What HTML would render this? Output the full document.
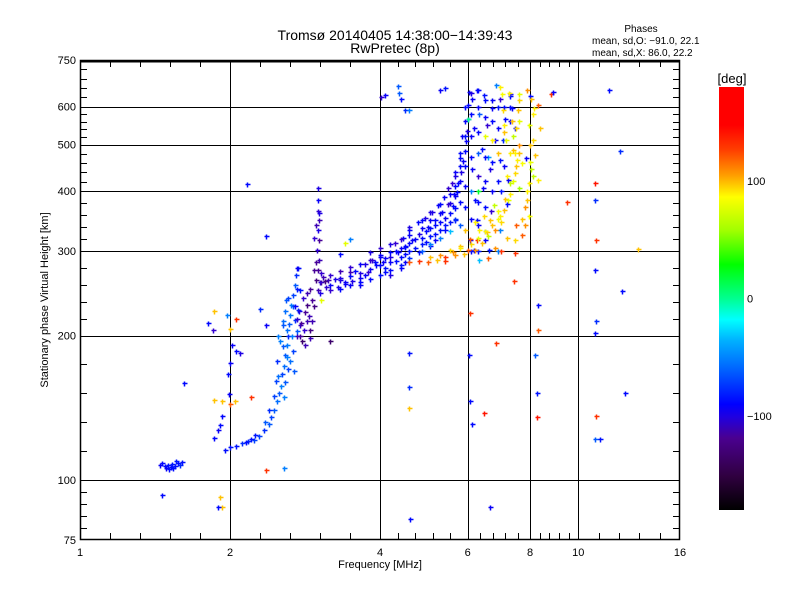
<!DOCTYPE html>
<html><head><meta charset="utf-8"><style>
body{margin:0;background:#fff;}
svg{display:block;font-family:"Liberation Sans",sans-serif;}
</style></head><body>
<svg id="chart" width="800" height="600" viewBox="0 0 800 600">
<rect width="800" height="600" fill="#fff"/>
<defs>
<linearGradient id="cbar" x1="0" y1="1" x2="0" y2="0">
<stop offset="0" stop-color="#000"/>
<stop offset="0.08" stop-color="#300040"/>
<stop offset="0.17" stop-color="#4a0090"/>
<stop offset="0.22" stop-color="#2000e0"/>
<stop offset="0.25" stop-color="#0000ff"/>
<stop offset="0.33" stop-color="#0060ff"/>
<stop offset="0.40" stop-color="#00b0ff"/>
<stop offset="0.45" stop-color="#00ffff"/>
<stop offset="0.50" stop-color="#00ff90"/>
<stop offset="0.58" stop-color="#00ff00"/>
<stop offset="0.66" stop-color="#a0ff00"/>
<stop offset="0.74" stop-color="#ffff00"/>
<stop offset="0.79" stop-color="#ffa000"/>
<stop offset="0.85" stop-color="#ff4000"/>
<stop offset="0.91" stop-color="#ff0000"/>
<stop offset="1" stop-color="#ff0000"/>
</linearGradient>
</defs>
<g font-size="14" text-anchor="middle" fill="#000">
<text x="395" y="40">Tromsø 20140405 14:38:00−14:39:43</text>
<text x="395" y="53">RwPretec (8p)</text>
</g>
<g font-size="10" fill="#000">
<text x="641" y="32" text-anchor="middle">Phases</text>
<text x="592" y="44">mean, sd,O: −91.0, 22.1</text>
<text x="592" y="56">mean, sd,X:  86.0, 22.2</text>
</g>
<g id="grid"></g>
<g id="points"></g>
<g id="axes"></g>
<text x="380" y="568" font-size="11" text-anchor="middle">Frequency [MHz]</text>
<text x="0" y="0" font-size="11" text-anchor="middle" transform="translate(48,300) rotate(-90)">Stationary phase Virtual Height [km]</text>
<g>
<rect x="719" y="87" width="25" height="423" fill="url(#cbar)"/>
<text x="732" y="83" font-size="13" text-anchor="middle">[deg]</text>
<g id="cbticks" font-size="11"></g>
</g>
</svg>
<script>
// ---- data ----
const xMajorTicks = [1, 2, 4, 6, 8, 10, 16];
const xGridValues = [2, 4, 6, 8, 10];
const yMajorTicks = [75, 100, 200, 300, 400, 500, 600, 750];
const colorbarTicks = [100, 0, -100];

// sporadic-E low trace
const esFreq = [1.45,1.46,1.48,1.49,1.50,1.52,1.53,1.54,1.55,1.57,1.59,1.60,1.51,1.56];
const esHeight = [107.5,108.6,107,105.7,107.5,106.6,108,106,107,108.6,107.5,109,105.5,109.5];
const esPhase = [-110,-100,-95,-110,-90,-100,-85,-95,-90,-100,-80,-90,-95,-85];

// F1 O-mode trace (cyan)
const f1Freq = [1.95,2.0,2.06,2.11,2.17,2.23,2.29,2.34,2.39,2.42,2.45,2.48,2.51,2.53,2.54,2.57,2.58,2.60,2.61,2.63,2.64,2.65,2.68,2.70,2.71,2.74,2.52,2.72,2.67,2.55,2.74,2.59,2.76,2.49,2.69,2.47,2.57,2.64,
  2.55,2.6,2.62,2.5,2.58,2.66,2.7,2.58,2.62,2.68,2.72,2.5,2.55,2.6,2.45,2.4,2.35,2.2,2.25,2.15];
const f1Height = [115.5,117,118,119.4,120.6,121,123.6,127,131,135,140,146,152,157,166,173,182,191,200,211,221,232,243,255,268,277,195,204,186,214,226,237,249,177,169,161,149,177,
  190,180,170,165,160,200,215,225,240,230,250,200,210,205,150,140,132,122,124,120];
const f1Phase = [-95,-90,-85,-80,-80,-75,-75,-80,-70,-75,-70,-65,-70,-60,-75,-65,-70,-60,-80,-70,-65,-60,-75,-70,-80,-85,-60,-70,-75,-65,-80,-70,-90,-80,-70,-75,-60,-65,
  -70,-60,-75,-65,-70,-60,-80,-65,-75,-70,-85,-60,-70,-65,-75,-80,-70,-90,-85,-95];

// low-frequency dark trace near 2 MHz
const lowFreq = [2.02,2.06,2.09,2.0,1.98,1.99,1.93,1.91,1.89,1.86];
const lowHeight = [191,186,184,175,166,151,136,130,127,122.6];
const lowPhase = [-110,-105,-115,-110,-100,-110,-105,-100,-110,-105];

// spread column (purple)
const pxFreq = [3.0,3.0,3.0,3.02,3.0,3.02,2.99,3.02,3.0,2.97,3.0,2.92,2.86,2.83,2.92,2.76,2.9,2.83,2.76,2.79,2.85,2.72,2.95,3.04,3.1,3.15,
  2.95,2.98,3.02,2.9,2.85,2.8,2.95,2.88,2.78,2.82,2.9,2.75,3.05,2.98,3.08,3.12,2.7,2.72];
const pxHeight = [405,383,364,348,332,316,302,287,274,261,249,237,232,224,214,210,205,191,200,195,214,216,274,258,260,261,
  320,340,360,250,245,240,230,220,212,205,198,225,270,285,265,252,230,200];
const pxPhase = [-115,-110,-120,-125,-115,-130,-120,-125,-130,-135,-125,-130,-135,-130,-125,-120,-135,-125,-130,-140,-125,-120,-130,-130,-135,-125,
  -120,-125,-115,-130,-125,-120,-135,-125,-130,-120,-125,-115,-120,-130,-125,-120,-110,-125];

// main F2 O-mode trace (blue)
const f2Freq = [3.17,3.29,3.40,3.51,3.65,3.79,3.93,4.05,4.19,4.35,4.49,4.63,4.8,5.0,5.15,5.33,5.48,5.63,5.74,5.82,5.88,5.93,5.96,5.99,6.01,6.01,6.04,3.48,3.74,4.0,4.29,4.58,4.93,5.22,5.48,5.66,5.78,5.85,3.33,3.85,4.44,4.76,5.09,5.37,5.59,3.65,4.1,4.49,4.8,5.15,5.41,5.66,4.41,4.19,5.03];
const f2Height = [249,252,256,260,264,271,280,285,291,299,308,316,325,336,348,361,376,394,416,438,461,485,508,533,564,605,643,271,282,295,312,332,351,374,405,438,468,521,263,287,319,345,361,388,416,255,271,285,299,316,332,348,276,267,308];
const f2Phase = [-120,-115,-110,-115,-110,-120,-105,-110,-115,-110,-105,-110,-115,-110,-105,-110,-120,-110,-105,-115,-110,-105,-110,-115,-110,-105,-110,-125,-115,-110,-120,-110,-115,-110,-120,-110,-105,-110,-115,-120,-110,-105,-115,-110,-120,-110,-100,-110,-95,-110,-100,-90,-110,-115,-100];

// dense fill of the F2 band
const bandFreq = [3.03,3.03, 3.17,3.17, 3.33,3.33,3.33, 3.48,3.48,3.48, 3.65,3.65,3.65, 3.82,3.82,3.82,3.82, 4.0,4.0,4.0,4.0, 4.19,4.19,4.19,4.19, 4.41,4.41,4.41,4.41,
  4.58,4.58,4.58,4.58,4.58, 4.86,4.86,4.86,4.86,4.86, 5.03,5.03,5.03,5.03,5.03, 5.28,5.28,5.28,5.28,5.28, 5.53,5.53,5.53,5.53,5.53, 5.66,5.66,5.66,5.66,5.66,
  5.78,5.78,5.78,5.78,5.78, 5.93,5.93,5.93,5.93,5.93,5.93,
  3.25,3.4,3.56,3.74,3.9,4.1,4.3,4.5,4.7,4.95,5.15,5.4,5.6,5.72, 4.1,4.3,4.5,4.7,4.95,5.15,5.4];
const bandHeight = [245,258, 255,268, 250,261,272, 255,266,278, 259,270,282, 262,275,288,298, 268,280,292,305, 274,285,298,310, 280,292,304,318,
  290,300,312,324,336, 300,310,320,335,348, 310,322,335,348,362, 320,332,345,360,375, 330,345,360,378,395, 350,368,390,410,430,
  340,380,420,450,480, 370,410,450,520,560,600,
  262,258,272,268,284,290,300,306,318,330,340,352,372,398, 276,286,296,304,314,326,340];
const bandPhase = [-115,-120, -110,-120, -105,-115,-125, -110,-100,-120, -105,-115,-110, -100,-110,-120,-115, -95,-105,-110,-120, -100,-110,-105,-115, -90,-100,-110,-120,
  -80,-95,-105,-110,-115, -70,-90,-100,-110,-105, -60,-85,-100,-110,-115, -60,-95,-105,-110,-100, -40,-90,-100,-115,-110, -80,-100,-110,-105,-115,
  -70,-100,-110,-105,-100, -100,-110,-105,-95,-110,-100,
  -115,-110,-105,-110,-100,-110,-105,-100,-110,-105,-100,-110,-105,-100, -90,-95,-100,-90,-95,-100,-90];

// F2 O-mode spread column
const colFreq = [6.11,6.27,6.46,6.71,6.96,7.12,6.19,6.41,6.65,6.81,6.96,7.22,6.21,6.43,6.69,6.96,6.5,6.27,6.11,6.57,7.05,7.28,6.84,6.17,6.33,6.06,6.62,7.35,7.45,6.33,6.3,6.6,6.9,
  6.1,6.1,6.1,6.1,6.1,6.1,6.1, 6.3,6.3,6.3,6.3,6.3,6.3,6.3,6.3, 6.5,6.5,6.5,6.5,6.5,6.5,6.5, 6.7,6.7,6.7,6.7,6.7, 6.9,6.9,6.9,6.9, 7.1,7.1,7.1, 7.3,7.3,7.3];
const colHeight = [621,650,635,595,621,564,540,490,445,512,465,422,383,405,364,332,316,348,445,550,512,636,666,302,287,316,302,595,540,578,400,470,300,
  300,350,400,470,520,580,640, 300,340,380,430,480,530,600,650, 330,370,420,470,520,570,620, 400,460,510,560,620, 420,480,540,600, 450,530,600, 480,560,630];
const colPhase = [-110,-100,-90,-110,-120,-105,-110,-100,-115,-110,-90,-110,-100,-110,-120,-60,-110,-100,-110,-120,-80,-110,-60,-100,-40,-110,-90,-110,-100,-70,20,-50,-60,
  -100,-110,-60,-105,-110,-100,-115, -90,-110,-100,-120,-70,-105,-110,-100, -60,-100,-110,-100,80,-110,-100, -110,-100,90,-105,-110, -100,100,-110,-90, -110,100,-100, 90,-110,-100];

// X-mode F2 trace (yellow)
const xmFreq = [4.58,4.8,5.03,5.28,5.53,5.78,6.06,6.33,6.65,6.9,7.12,7.28,7.45,7.54,7.39,7.15,7.08,7.05,7.02,6.96,7.58,7.62,7.5,7.62,7.7,5.93,6.2,6.46,6.78,6.55,6.27,6.01,5.66,5.41,6.96,7.22,
  5.0,5.2,5.4,5.6,5.8,5.9,6.1,6.2,6.3,6.4,6.5,6.6,6.7,6.8,6.9,7.0,7.1,7.2,7.3,7.4,7.5,7.45,7.4,7.35,7.3,7.25,7.6,7.6,7.6,7.0,7.2,7.0,6.6,6.8,7.2,8.0,8.0,8.1,8.0,7.9,7.8,8.1,7.7,7.5];
const xmHeight = [284,286,291,294,301,308,318,332,348,364,385,416,436,465,488,512,548,590,636,658,590,636,540,500,458,332,345,355,374,329,316,302,294,286,355,383,
  284,288,292,298,304,296,310,302,320,312,330,322,340,332,350,345,365,375,395,420,450,480,520,560,600,640,480,560,620,400,430,300,290,305,320,460,500,580,630,400,370,430,350,340];
const xmPhase = [120,130,100,110,95,100,120,90,100,85,100,70,95,90,100,80,90,95,85,90,100,80,95,110,85,100,90,95,70,100,130,120,110,130,90,80,
  120,100,130,110,90,100,95,110,80,100,90,70,100,110,85,95,100,-100,90,80,100,90,70,100,-100,90,100,80,95,-90,90,130,120,110,100,80,100,90,-100,90,110,70,100,120];

// outer X-mode column near 8 MHz
const ocFreq = [7.9,8.05,8.15,7.98,8.1,8.2,8.05,7.98,7.9,7.98,7.8,7.7,7.45,8.3,8.38,7.85,8.3,7.62];
const ocHeight = [650,621,595,550,512,475,445,416,383,355,340,324,316,605,540,468,422,405];
const ocPhase = [110,100,90,80,95,100,70,90,100,85,110,120,95,120,100,-110,90,60];

// isolated echoes
const spFreq = [4.02,4.09,4.4,4.49,4.58,4.36,5.28,5.41,8.8,8.88,11.5,4.35,10.8,10.8,10.86,10.8,10.86,10.8,10.86,11.05,10.8,12.13,12.23,13.2,12.4,9.5,8.3,8.2,8.25,8.25,8.3,6.06,6.04,6.06,6.11,6.0,6.46,6.65,6.84,7.45,7.42,4.58,4.58,4.58,4.6,2.16,1.97,2.06,2.0,1.85,1.81,1.86,2.3,2.36,1.93,2.0,2.05,2.2,1.62,2.36,2.57,1.46,1.91,1.93,1.89,1.86,3.4,3.48,3.17,3.05,3.33,2.36,2.73];
const spHeight = [627,633,621,589,589,640,650,657,636,643,650,663,416,383,316,274,214,202,136,122,122,484,248,303,152,379,231,182,152,135,205,223,182,146,131,564,138,88,193,297,260,184,141,156,83,413,221,216,206,205,212,225,227,210,146,144,146,149,159,105,106,93,92,88,88,147,312,318,195,237,296,322,277];
const spPhase = [-120,-110,-100,-80,-60,-70,-110,-90,130,-110,-100,-70,140,-80,130,-100,-80,-100,130,-90,-70,-80,-100,100,-100,130,-100,-70,-90,140,120,130,-100,-100,-100,0,140,-110,130,130,130,-90,100,-80,-100,-100,-60,130,100,-120,-100,100,-80,-110,100,120,100,130,-100,130,-60,-100,100,100,-100,100,80,-60,-140,80,-100,-100,-110];

// ---- scales ----
const X0 = 80, X1 = 680, Y0 = 540, Y1 = 60;
function xs(f){ return X0 + (X1 - X0) * Math.log(f) / Math.log(16); }
function ys(h){ return Y0 - (Y0 - Y1) * Math.log(h / 75) / Math.log(10); }
const NS = 'http://www.w3.org/2000/svg';

const cmapStops = [[-180,[0,0,0]],[-150,[48,0,64]],[-130,[70,0,150]],[-120,[50,0,210]],[-108,[0,0,255]],[-85,[0,20,255]],[-65,[0,110,255]],[-40,[0,190,255]],[-20,[0,255,255]],[0,[0,255,144]],[30,[0,255,0]],[60,[160,255,0]],[87,[255,255,0]],[105,[255,170,0]],[125,[255,64,0]],[147,[255,0,0]],[180,[255,0,0]]];
function phaseColor(p){
  for (let i = 0; i < cmapStops.length - 1; i++){
    const a = cmapStops[i], b = cmapStops[i+1];
    if (p <= b[0]){
      const t = Math.max(0, (p - a[0]) / (b[0] - a[0]));
      const c = a[1].map((v, k) => Math.round(v + (b[1][k] - v) * t));
      return 'rgb(' + c.join(',') + ')';
    }
  }
  return 'rgb(255,0,0)';
}

function line(g, x1, y1, x2, y2, w){
  const l = document.createElementNS(NS, 'line');
  l.setAttribute('x1', x1); l.setAttribute('y1', y1);
  l.setAttribute('x2', x2); l.setAttribute('y2', y2);
  l.setAttribute('stroke', '#000'); l.setAttribute('stroke-width', w || 1);
  l.setAttribute('shape-rendering', 'crispEdges');
  g.appendChild(l);
  return l;
}
function text(g, x, y, s, anchor, size){
  const t = document.createElementNS(NS, 'text');
  t.setAttribute('x', x); t.setAttribute('y', y);
  t.setAttribute('text-anchor', anchor); t.setAttribute('font-size', size || 11);
  t.textContent = s;
  g.appendChild(t);
  return t;
}

// grid
const grid = document.getElementById('grid');
xGridValues.forEach(v => {
  const l = line(grid, Math.round(xs(v)) + 0.5, Y1, Math.round(xs(v)) + 0.5, Y0, 1);
  
  
});
yMajorTicks.slice(1, -1).forEach(v => {
  const l = line(grid, X0, Math.round(ys(v)) + 0.5, X1, Math.round(ys(v)) + 0.5, 1);
  
  
});

// points
const pts = document.getElementById('points');
function drawSeries(fr, hs, ph, name){
  const g = document.createElementNS(NS, 'g');
  
  
  const n = Math.min(fr.length, hs.length, ph.length);
  for (let i = 0; i < n; i++){
    const x = Math.round(xs(fr[i])) + 0.5, y = Math.round(ys(hs[i])) + 0.5;
    const p = document.createElementNS(NS, 'path');
    p.setAttribute('d', 'M' + (x - 2) + ' ' + y + 'h5M' + x + ' ' + (y - 2) + 'v5');
    p.setAttribute('stroke', phaseColor(ph[i]));
    p.setAttribute('stroke-width', '1.5');
    p.setAttribute('fill', 'none');
    
    
    g.appendChild(p);
  }
  pts.appendChild(g);
}
drawSeries(esFreq, esHeight, esPhase, 'es-trace');
drawSeries(lowFreq, lowHeight, lowPhase, 'low-trace');
drawSeries(f1Freq, f1Height, f1Phase, 'f1-o-trace');
drawSeries(pxFreq, pxHeight, pxPhase, 'spread-column');
drawSeries(f2Freq, f2Height, f2Phase, 'f2-o-trace');
drawSeries(bandFreq, bandHeight, bandPhase, 'f2-o-band');
drawSeries(colFreq, colHeight, colPhase, 'f2-o-column');
drawSeries(xmFreq, xmHeight, xmPhase, 'f2-x-trace');
drawSeries(ocFreq, ocHeight, ocPhase, 'f2-x-column');
drawSeries(spFreq, spHeight, spPhase, 'isolated-echoes');

// axes
const ax = document.getElementById('axes');
const frame = document.createElementNS(NS, 'rect');
frame.setAttribute('x', X0 + 0.5); frame.setAttribute('y', Y1 + 0.5);
frame.setAttribute('width', X1 - X0 - 1); frame.setAttribute('height', Y0 - Y1 - 1);
frame.setAttribute('fill', 'none'); frame.setAttribute('stroke', '#000'); frame.setAttribute('stroke-width', '1.5');


ax.appendChild(frame);
line(ax, X0, Y1 + 1, X1, Y1 + 1, 2.5);
for (let i = 0; i < xMajorTicks.length; i++){
  const v = xMajorTicks[i];
  const t = text(ax, xs(v), 556, String(v), 'middle', 11);
  
  
  if (i < xMajorTicks.length - 1){
    const a = Math.log(v), b = Math.log(xMajorTicks[i+1]);
    for (let k = 1; k < 5; k++){
      const xx = Math.round(xs(Math.exp(a + (b - a) * k / 5))) + 0.5;
      line(ax, xx, Y0, xx, Y0 - 7, 1);
      line(ax, xx, Y1, xx, Y1 + 7, 1);
    }
  }
}
for (let i = 0; i < yMajorTicks.length; i++){
  const v = yMajorTicks[i];
  const t = text(ax, 76, ys(v) + 4, String(v), 'end', 11);
  
  
  if (i < yMajorTicks.length - 1){
    const a = Math.log(v), b = Math.log(yMajorTicks[i+1]);
    for (let k = 1; k < 5; k++){
      const yy = Math.round(ys(Math.exp(a + (b - a) * k / 5))) + 0.5;
      line(ax, X0, yy, X0 + 7, yy, 1);
      line(ax, X1, yy, X1 - 7, yy, 1);
    }
  }
}

// colorbar ticks
const cb = document.getElementById('cbticks');
colorbarTicks.forEach(v => {
  const y = 87 + (180 - v) / 360 * 423;
  const t = text(cb, 747, y + 4, v < 0 ? '−' + Math.abs(v) : String(v), 'start', 11);
  
  
});
</script>
</body></html>
